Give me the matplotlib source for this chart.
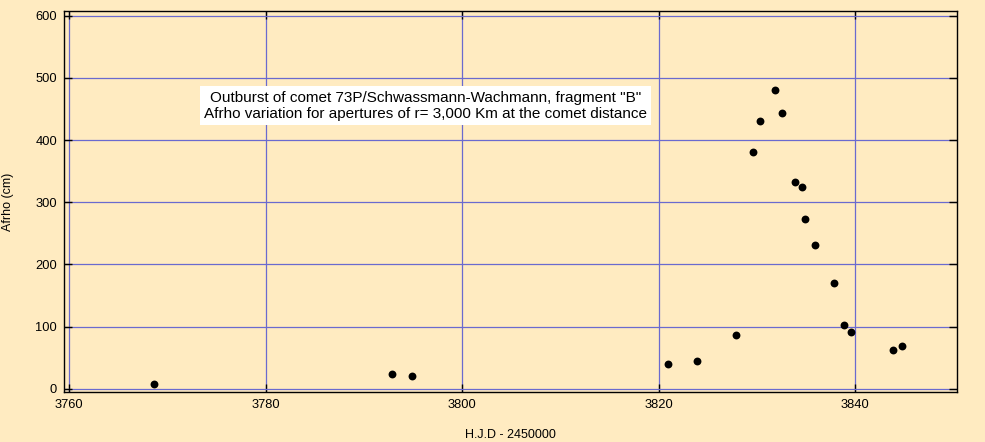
import matplotlib
matplotlib.use("Agg")
import matplotlib.pyplot as plt
from matplotlib.ticker import MultipleLocator

# Data
hjd = [3768.7, 3792.9, 3794.9, 3820.95, 3823.9, 3827.9, 3829.6, 3830.3, 3831.8,
       3832.55, 3833.87, 3834.58, 3834.9, 3835.9, 3837.85, 3838.85, 3839.56,
       3843.8, 3844.8]
afrho = [7.6, 23.2, 20.4, 39.8, 44.1, 86.4, 381, 430.5, 480.4,
         443.8, 332.7, 324.7, 272.5, 230.8, 169.7, 102, 90.8,
         61.8, 68.2]

title_lines = ['Outburst of comet 73P/Schwassmann-Wachmann, fragment "B"',
               'Afrho variation for apertures of r= 3,000 Km at the comet distance']
x_label = "H.J.D - 2450000"
y_label = "Afrho (cm)"

bg = "#FFEBC1"
grid_c = "#6A6ACF"

plt.rcParams['font.family'] = ['Liberation Sans', 'DejaVu Sans']

fig = plt.figure(figsize=(9.85, 4.42), dpi=100, facecolor=bg)
ax = fig.add_axes([64/985, 1 - 392/442, (957-64)/985, (392-11.5)/442])
ax.set_facecolor(bg)

ax.scatter(hjd, afrho, s=32, color="black", zorder=3, linewidths=0)

ax.set_xlim(3759.5, 3850.35)
ax.set_ylim(-5.3, 607)
ax.xaxis.set_major_locator(MultipleLocator(20))
ax.yaxis.set_major_locator(MultipleLocator(100))

ax.grid(True, color=grid_c, linewidth=0.9, zorder=1)
ax.set_axisbelow(True)

ax.tick_params(direction="in", length=6, width=1, top=True, right=True,
               labelsize=9.3, colors="black", pad=5)
for s in ax.spines.values():
    s.set_linewidth(1.0)
    s.set_color("black")

ax.set_xlabel(x_label, fontsize=9, labelpad=13)
ax.set_ylabel(y_label, fontsize=9, labelpad=15)

ax.text(3796.3, 455, "\n".join(title_lines), ha="center", va="center",
        fontsize=11, linespacing=1.25, zorder=4,
        bbox=dict(facecolor="white", edgecolor="none", pad=3))

fig.savefig("out.png", dpi=100, facecolor=bg)
